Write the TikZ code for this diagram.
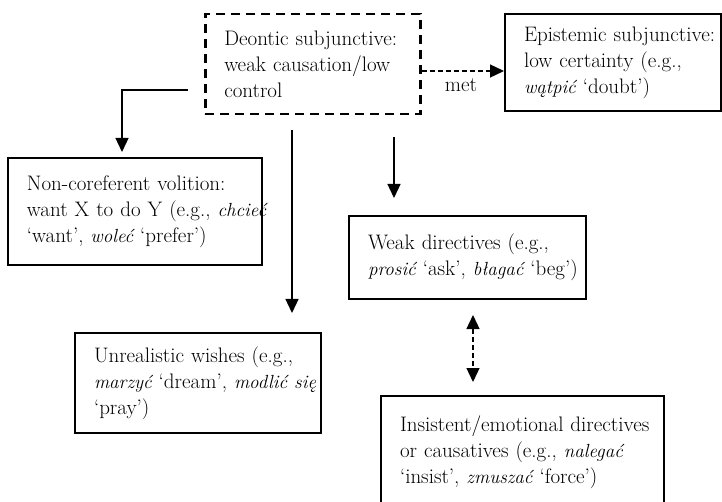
\documentclass[tikz,border=0pt]{standalone}
\usepackage{fontspec}
\usetikzlibrary{arrows.meta}

% one unbreakable text line
\newcommand{\oneline}[1]{\mbox{#1}}
% Polish example words, in a slightly smaller italic
\newcommand{\pl}[1]{{\fontsize{19}{26}\selectfont\itshape #1}}

\begin{document}
\begin{tikzpicture}[x=1pt, y=-1pt,
  txt/.style={font=\fontsize{21}{26}\selectfont},
  box/.style={txt, draw, line width=2pt, anchor=north west,
    inner xsep=19pt, inner ysep=0pt, align=left},
  dbox/.style={box, line width=2.5pt, dash pattern=on 9pt off 6pt},
  arr/.style={line width=1.3pt, -{Triangle[width=13pt,length=14pt]}},
  dasharr/.style={arr, dash pattern=on 5pt off 3pt},
  ddarr/.style={line width=1.3pt, dash pattern=on 5pt off 3pt,
    {Triangle[width=13pt,length=14pt]}-{Triangle[width=13pt,length=14pt]}}
]
\useasboundingbox (0,0) rectangle (722,502);

% category boxes
\node[dbox, minimum width=215pt, text width=177pt, minimum height=100pt] (deo) at (204,13)
  {\oneline{Deontic subjunctive:}\\ \oneline{weak causation/low}\\ control};
\node[box, minimum width=216pt, text width=178pt, minimum height=97pt] (epi) at (504,13)
  {\oneline{Epistemic subjunctive:}\\ \oneline{low certainty (e.g.,}\\ \oneline{\pl{wątpić} ‘doubt’)}};
\node[box, minimum width=254pt, text width=216pt, minimum height=107pt] (nc) at (7,157)
  {\oneline{Non-coreferent volition:}\\ \oneline{want X to do Y (e.g., \pl{chcieć}}\\ \oneline{‘want’, \pl{woleć} ‘prefer’)}};
\node[box, minimum width=237pt, text width=199pt, minimum height=83pt] (weak) at (348,215)
  {\oneline{Weak directives (e.g.,}\\ \oneline{\pl{prosić} ‘ask’, \pl{błagać} ‘beg’)}};
\node[box, minimum width=246pt, text width=208pt, minimum height=100pt] (unr) at (74,332)
  {\oneline{Unrealistic wishes (e.g.,}\\ \oneline{\pl{marzyć} ‘dream’, \pl{modlić się}}\\ ‘pray’)};
\node[box, minimum width=283pt, text width=245pt, minimum height=113pt] (ins) at (380,395)
  {\oneline{Insistent/emotional directives}\\ \oneline{or causatives (e.g., \pl{nalegać}}\\ \oneline{‘insist’, \pl{zmuszać} ‘force’)}};

% connector guides
\coordinate (gl) at (122,90);
\coordinate (gu) at (292,0);
\coordinate (gw) at (394,0);
\coordinate (gi) at (473,0);
\coordinate (ge) at (0,71);

% connectors
\draw[dasharr] (deo.east |- ge) -- (epi.west |- ge);
\node[txt] (met) at (461,85) {met};
\draw[arr, shorten <=16pt, shorten >=5pt] (deo.west |- gl) -| (nc.north -| gl);
\draw[arr, shorten <=15pt, shorten >=19pt] (deo.south -| gu) -- (unr.north -| gu);
\draw[arr, shorten <=22pt, shorten >=17pt] (deo.south -| gw) -- (weak.north -| gw);
\draw[ddarr, shorten <=15pt, shorten >=13pt] (weak.south -| gi) -- (ins.north -| gi);
\end{tikzpicture}
\end{document}
